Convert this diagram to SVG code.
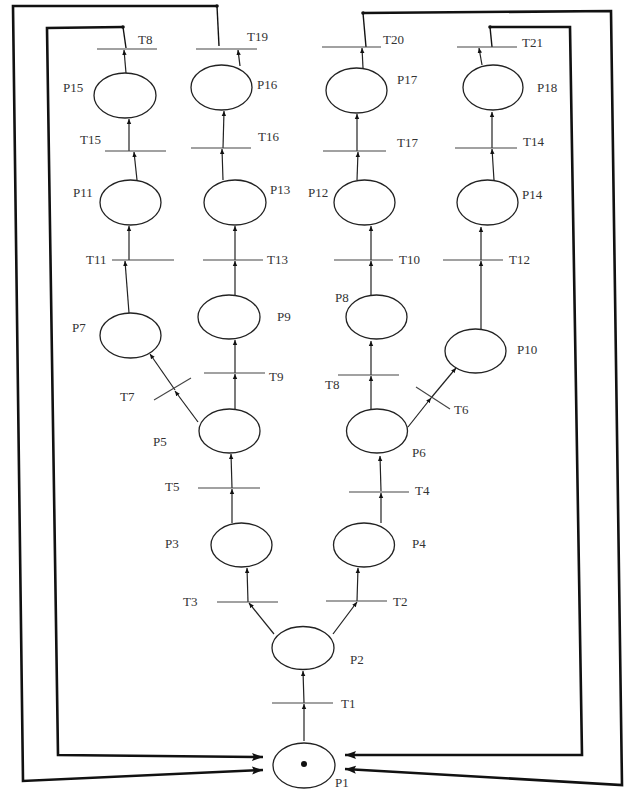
<svg xmlns="http://www.w3.org/2000/svg" width="630" height="789" viewBox="0 0 630 789">
<defs>
<marker id="a" markerUnits="userSpaceOnUse" markerWidth="6" markerHeight="6" refX="5" refY="3" orient="auto"><path d="M0,0.8 L5,3 L0,5.2 Z" fill="#111"/></marker>
<marker id="big" markerUnits="userSpaceOnUse" markerWidth="12" markerHeight="10" refX="11" refY="5" orient="auto"><path d="M0,1 L11,5 L0,9 L2,5 Z" fill="#111"/></marker>
<style>
.pl{fill:#fff;stroke:#222;stroke-width:1.3}
.tr{stroke:#444;stroke-width:1.1}
.arc{fill:none;stroke:#222;stroke-width:1.2;marker-end:url(#a)}
.fr{fill:none;stroke:#111;stroke-width:2.6;stroke-linejoin:miter;marker-end:url(#big)}
.fl{fill:none;stroke:#111;stroke-width:1.4}
text{font-family:"Liberation Serif","Times New Roman",serif;font-size:13px;fill:#333}
</style>
</defs>
<rect width="630" height="789" fill="#fff"/>
<g id="connectors">
<path class="arc" d="M304,741 L304,704"/>
<path class="arc" d="M304,703 L303,671"/>
<path class="arc" d="M274,634 L249,603"/>
<path class="arc" d="M248,602 L247,568"/>
<path class="arc" d="M333,634 L357,602"/>
<path class="arc" d="M357,601 L358,568"/>
<path class="arc" d="M232,523 L232,489"/>
<path class="arc" d="M232,488 L231,454"/>
<path class="arc" d="M381,523 L381,493"/>
<path class="arc" d="M381,491 L380,456"/>
<path class="arc" d="M235,409 L235,374"/>
<path class="arc" d="M235,373 L235,340"/>
<path class="arc" d="M235,295 L235,261"/>
<path class="arc" d="M235,260 L235,226"/>
<path class="arc" d="M198,422 L175,391"/>
<path class="arc" d="M175,390 L150,354"/>
<path class="arc" d="M129,313 L125,261"/>
<path class="arc" d="M129,260 L129,226"/>
<path class="arc" d="M137,180 L134,152"/>
<path class="arc" d="M129,151 L129,119"/>
<path class="arc" d="M126,73 L124,50"/>
<path class="arc" d="M223,180 L222,149"/>
<path class="arc" d="M223,148 L224,111"/>
<path class="arc" d="M240,66 L238,50"/>
<path class="arc" d="M371,409 L371,376"/>
<path class="arc" d="M371,375 L371,341"/>
<path class="arc" d="M371,295 L371,261"/>
<path class="arc" d="M371,260 L371,226"/>
<path class="arc" d="M357,180 L358,152"/>
<path class="arc" d="M357,151 L357,114"/>
<path class="arc" d="M363,68 L362,48"/>
<path class="arc" d="M408,427 L431,398"/>
<path class="arc" d="M431,398 L456,368"/>
<path class="arc" d="M481,329 L481,261"/>
<path class="arc" d="M481,260 L481,227"/>
<path class="arc" d="M494,180 L492,149"/>
<path class="arc" d="M492,148 L492,112"/>
<path class="arc" d="M482,65 L479,48"/>
<path class="fl" d="M126,48 L123,27"/>
<path class="fr" d="M123,27 L47,28 L58,755 L263,757"/>
<path class="fl" d="M219,46 L217,6"/>
<path class="fr" d="M217,6 L13,6 L23,781 L263,770"/>
<path class="fl" d="M366,47 L363,13"/>
<path class="fr" d="M363,13 L611,11 L622,785 L345,769"/>
<path class="fl" d="M492,47 L490,27"/>
<path class="fr" d="M490,27 L570,27 L582,755 L345,755"/>
<circle cx="123" cy="27" r="1.8" fill="#111"/>
<circle cx="217" cy="6" r="1.8" fill="#111"/>
<circle cx="363" cy="13" r="1.8" fill="#111"/>
<circle cx="490" cy="27" r="1.8" fill="#111"/>
</g>
<g id="P1"><ellipse class="pl" cx="304" cy="765.5" rx="31" ry="22.5"/><circle cx="304" cy="764" r="3" fill="#111"/><text x="335" y="787">P1</text></g>
<g id="P2"><ellipse class="pl" cx="303" cy="648" rx="31" ry="21.5"/><text x="350" y="664">P2</text></g>
<g id="P3"><ellipse class="pl" cx="241.5" cy="545" rx="30.5" ry="22"/><text x="165" y="548">P3</text></g>
<g id="P4"><ellipse class="pl" cx="364" cy="545" rx="30.5" ry="22"/><text x="412" y="548">P4</text></g>
<g id="P5"><ellipse class="pl" cx="229.5" cy="431" rx="30.5" ry="22"/><text x="153" y="446">P5</text></g>
<g id="P6"><ellipse class="pl" cx="377" cy="431" rx="30.5" ry="22"/><text x="412" y="457">P6</text></g>
<g id="P7"><ellipse class="pl" cx="130.5" cy="335.5" rx="30.5" ry="22.5"/><text x="72" y="332">P7</text></g>
<g id="P8"><ellipse class="pl" cx="376.5" cy="317" rx="30.5" ry="22"/><text x="335" y="302">P8</text></g>
<g id="P9"><ellipse class="pl" cx="229" cy="317" rx="31" ry="22"/><text x="277" y="321">P9</text></g>
<g id="P10"><ellipse class="pl" cx="475.5" cy="351" rx="30.5" ry="22"/><text x="517" y="354">P10</text></g>
<g id="P11"><ellipse class="pl" cx="130.5" cy="202.5" rx="30.5" ry="22.5"/><text x="73" y="197">P11</text></g>
<g id="P12"><ellipse class="pl" cx="364.5" cy="202.5" rx="30.5" ry="22.5"/><text x="308" y="197">P12</text></g>
<g id="P13"><ellipse class="pl" cx="235" cy="202.5" rx="31" ry="22.5"/><text x="270" y="194">P13</text></g>
<g id="P14"><ellipse class="pl" cx="487.5" cy="202.5" rx="30.5" ry="22.5"/><text x="522" y="199">P14</text></g>
<g id="P15"><ellipse class="pl" cx="125" cy="95.5" rx="31" ry="22.5"/><text x="63" y="92">P15</text></g>
<g id="P16"><ellipse class="pl" cx="221.5" cy="87.5" rx="30.5" ry="22.5"/><text x="257" y="89">P16</text></g>
<g id="P17"><ellipse class="pl" cx="356.5" cy="90.5" rx="30.5" ry="22.5"/><text x="397" y="84">P17</text></g>
<g id="P18"><ellipse class="pl" cx="493" cy="87.5" rx="30" ry="22.5"/><text x="537" y="92">P18</text></g>
<g id="T1"><line class="tr" x1="272" y1="703" x2="333" y2="703"/><text x="341" y="708">T1</text></g>
<g id="T2"><line class="tr" x1="326" y1="601" x2="387" y2="601"/><text x="393" y="606">T2</text></g>
<g id="T3"><line class="tr" x1="217" y1="602" x2="278" y2="602"/><text x="183" y="606">T3</text></g>
<g id="T4"><line class="tr" x1="349" y1="492" x2="409" y2="492"/><text x="415" y="495">T4</text></g>
<g id="T5"><line class="tr" x1="198" y1="488" x2="260" y2="488"/><text x="165" y="491">T5</text></g>
<g id="T6"><line class="tr" x1="416" y1="387" x2="450" y2="409"/><text x="454" y="414">T6</text></g>
<g id="T7"><line class="tr" x1="154" y1="400" x2="191" y2="378"/><text x="120" y="401">T7</text></g>
<g id="T8b"><line class="tr" x1="338" y1="375" x2="399" y2="375"/><text x="325" y="389">T8</text></g>
<g id="T9"><line class="tr" x1="204" y1="373" x2="265" y2="373"/><text x="269" y="381">T9</text></g>
<g id="T10"><line class="tr" x1="334" y1="260" x2="393" y2="260"/><text x="399" y="264">T10</text></g>
<g id="T11"><line class="tr" x1="112" y1="260" x2="174" y2="260"/><text x="86" y="264">T11</text></g>
<g id="T12"><line class="tr" x1="443" y1="260" x2="503" y2="260"/><text x="509" y="264">T12</text></g>
<g id="T13"><line class="tr" x1="203" y1="260" x2="263" y2="260"/><text x="267" y="264">T13</text></g>
<g id="T14"><line class="tr" x1="455" y1="148" x2="517" y2="148"/><text x="523" y="146">T14</text></g>
<g id="T15"><line class="tr" x1="105" y1="151" x2="166" y2="151"/><text x="80" y="144">T15</text></g>
<g id="T16"><line class="tr" x1="191" y1="148" x2="251" y2="148"/><text x="258" y="141">T16</text></g>
<g id="T17"><line class="tr" x1="323" y1="151" x2="386" y2="151"/><text x="397" y="147">T17</text></g>
<g id="T8"><line class="tr" x1="97" y1="49" x2="157" y2="49"/><text x="138" y="44">T8</text></g>
<g id="T19"><line class="tr" x1="196" y1="49" x2="257" y2="49"/><text x="247" y="41">T19</text></g>
<g id="T20"><line class="tr" x1="322" y1="47" x2="381" y2="47"/><text x="383" y="44">T20</text></g>
<g id="T21"><line class="tr" x1="457" y1="47" x2="517" y2="47"/><text x="522" y="47">T21</text></g>
</svg>
